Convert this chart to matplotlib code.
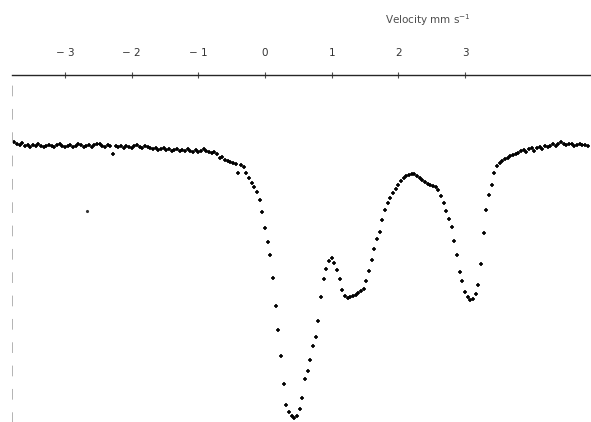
import numpy as np
import matplotlib
matplotlib.use("Agg")
import matplotlib.pyplot as plt

# Mossbauer spectrum (velocity in mm/s, transmission in %)
velocity = [
    -3.76, -3.72, -3.68, -3.64, -3.60, -3.56, -3.52, -3.48, -3.44, -3.40,
    -3.36, -3.32, -3.28, -3.24, -3.20, -3.16, -3.12, -3.08, -3.04, -3.00,
    -2.96, -2.92, -2.88, -2.84, -2.80, -2.76, -2.72, -2.68, -2.64, -2.60,
    -2.56, -2.52, -2.48, -2.44, -2.40, -2.36, -2.32, -2.28, -2.24, -2.20,
    -2.16, -2.12, -2.08, -2.04, -2.00, -1.96, -1.92, -1.88, -1.84, -1.80,
    -1.76, -1.72, -1.68, -1.64, -1.60, -1.56, -1.52, -1.48, -1.44, -1.40,
    -1.36, -1.32, -1.28, -1.24, -1.20, -1.16, -1.12, -1.08, -1.04, -1.00,
    -0.96, -0.92, -0.88, -0.84, -0.80, -0.76, -0.72, -0.68, -0.64, -0.60,
    -0.56, -0.52, -0.48, -0.44, -0.40, -0.36, -0.32, -0.28, -0.24, -0.20,
    -0.16, -0.12, -0.08, -0.04, 0.00, 0.04, 0.08, 0.12, 0.16, 0.20,
    0.24, 0.28, 0.32, 0.36, 0.40, 0.44, 0.48, 0.52, 0.56, 0.60,
    0.64, 0.68, 0.72, 0.76, 0.80, 0.84, 0.88, 0.92, 0.96, 1.00,
    1.04, 1.08, 1.12, 1.16, 1.20, 1.24, 1.28, 1.32, 1.36, 1.40,
    1.44, 1.48, 1.52, 1.56, 1.60, 1.64, 1.68, 1.72, 1.76, 1.80,
    1.84, 1.88, 1.92, 1.96, 2.00, 2.04, 2.08, 2.12, 2.16, 2.20,
    2.24, 2.28, 2.32, 2.36, 2.40, 2.44, 2.48, 2.52, 2.56, 2.60,
    2.64, 2.68, 2.72, 2.76, 2.80, 2.84, 2.88, 2.92, 2.96, 3.00,
    3.04, 3.08, 3.12, 3.16, 3.20, 3.24, 3.28, 3.32, 3.36, 3.40,
    3.44, 3.48, 3.52, 3.56, 3.60, 3.64, 3.68, 3.72, 3.76, 3.80,
    3.84, 3.88, 3.92, 3.96, 4.00, 4.04, 4.08, 4.12, 4.16, 4.20,
    4.24, 4.28, 4.32, 4.36, 4.40, 4.44, 4.48, 4.52, 4.56, 4.60,
    4.64, 4.68, 4.72, 4.76, 4.80, 4.84,
]
transmission = [
    100.12, 100.04, 100.00, 100.08, 99.96, 100.00, 99.92, 100.00, 99.96, 100.04,
    99.96, 99.92, 99.96, 100.00, 99.96, 99.92, 100.00, 100.04, 99.96, 99.92,
    99.96, 100.00, 99.92, 99.96, 100.04, 100.00, 99.92, 99.96, 100.00, 99.92,
    100.00, 100.04, 100.04, 99.96, 99.92, 100.00, 99.96, 99.64, 99.96, 99.92,
    99.96, 99.88, 99.96, 99.92, 99.88, 99.96, 100.00, 99.92, 99.88, 99.96,
    99.92, 99.88, 99.84, 99.88, 99.80, 99.84, 99.88, 99.80, 99.84, 99.76,
    99.80, 99.84, 99.76, 99.80, 99.76, 99.84, 99.76, 99.72, 99.80, 99.72,
    99.76, 99.84, 99.76, 99.72, 99.68, 99.72, 99.64, 99.48, 99.52, 99.40,
    99.36, 99.32, 99.28, 99.24, 98.88, 99.20, 99.12, 98.88, 98.68, 98.48,
    98.32, 98.12, 97.80, 97.32, 96.68, 96.12, 95.60, 94.68, 93.56, 92.60,
    91.56, 90.44, 89.60, 89.32, 89.16, 89.08, 89.16, 89.44, 89.88, 90.64,
    90.96, 91.40, 91.96, 92.32, 92.96, 93.92, 94.64, 95.04, 95.36, 95.48,
    95.28, 95.00, 94.64, 94.20, 93.96, 93.88, 93.92, 93.96, 94.00, 94.08,
    94.16, 94.24, 94.56, 94.96, 95.40, 95.84, 96.24, 96.52, 97.00, 97.40,
    97.68, 97.88, 98.08, 98.24, 98.40, 98.56, 98.68, 98.76, 98.80, 98.84,
    98.84, 98.76, 98.68, 98.60, 98.52, 98.44, 98.40, 98.36, 98.32, 98.20,
    97.96, 97.68, 97.36, 97.04, 96.72, 96.16, 95.60, 94.92, 94.56, 94.12,
    93.92, 93.80, 93.84, 94.04, 94.40, 95.24, 96.48, 97.40, 98.00, 98.40,
    98.88, 99.16, 99.28, 99.36, 99.44, 99.48, 99.56, 99.60, 99.64, 99.68,
    99.76, 99.80, 99.72, 99.84, 99.88, 99.76, 99.88, 99.92, 99.84, 99.96,
    99.92, 99.96, 100.04, 99.96, 100.04, 100.12, 100.04, 100.00, 100.04, 100.04,
    99.96, 100.00, 100.04, 100.00, 100.00, 99.96,
]
# a stray speck on the scan
stray_v = [-2.67]
stray_t = [97.36]

tick_vals = [-3, -2, -1, 0, 1, 2, 3]
tick_labels = ["\u2212 3", "\u2212 2", "\u2212 1", "0", "1", "2", "3"]

fig = plt.figure(figsize=(5.91, 4.22), dpi=100)
# top spine sits ~75 px below the top edge, left edge ~12 px in
ax = fig.add_axes([12 / 591, 0, 579 / 591, 347 / 422])

ax.plot(velocity, transmission, ls="none", marker="+", ms=3.4, mew=1.2, color="black")
ax.plot(stray_v, stray_t, ls="none", marker=".", ms=2.5, color="0.2")

ax.set_xlim(-3.795, 4.89)
ax.set_ylim(88.92, 102.8)

ax.xaxis.tick_top()
ax.set_xticks(tick_vals)
ax.set_xticklabels(tick_labels, fontsize=7.5, color="0.2")
ax.tick_params(axis="x", direction="inout", length=5, width=0.8, pad=10, colors="0.3")
ax.tick_params(axis="x", labelcolor="0.2")
ax.set_yticks([])

ax.spines["top"].set_linewidth(1.0)
ax.spines["top"].set_color("0.15")
ax.spines["right"].set_visible(False)
ax.spines["bottom"].set_visible(False)
ax.spines["left"].set_color("0.7")
ax.spines["left"].set_linewidth(0.7)
ax.spines["left"].set_linestyle((0, (10, 14)))

fig.text(385 / 591, 1 - 20 / 422, "Velocity mm s$^{-1}$", fontsize=7.5,
         color="0.3", ha="left", va="center")

fig.savefig("out.png", dpi=100, facecolor="white")
